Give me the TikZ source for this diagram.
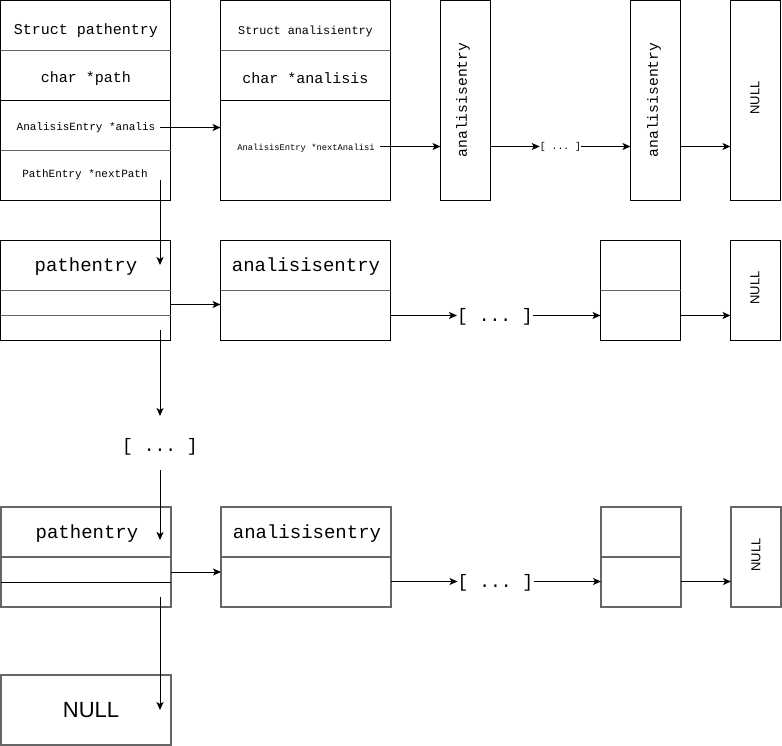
\documentclass[tikz,border=0pt]{standalone}
\usepackage{fontspec}
\setmonofont{Liberation Mono}
\setsansfont{Liberation Sans}
\usetikzlibrary{arrows.meta}

\tikzset{
  box/.style={draw=black, line width=1pt, inner sep=0pt, outer sep=0pt, anchor=north west},
  softbox/.style={box, draw=black!60, line width=1.3pt},
  soft/.style={draw=black!60, line width=1.3pt},
  hard/.style={draw=black, line width=1pt},
  mono/.style={inner sep=0pt, font=\ttfamily\fontsize{#1}{#1}\selectfont},
  sans/.style={inner sep=0pt, font=\sffamily\fontsize{#1}{#1}\selectfont},
  arr/.style={-{Stealth[length=8pt,width=7pt,inset=2pt]}, line width=1pt},
}

\begin{document}
\begin{tikzpicture}[x=1pt,y=-1pt]
\useasboundingbox (0,0) rectangle (782,746);

% ---------- first row: the struct layouts ----------
\node[box, minimum width=170pt, minimum height=200pt] (pa) at (0.5,0.5) {};
\draw[soft] ([yshift=-50pt]pa.north west) -- ([yshift=-50pt]pa.north east);
\draw[hard] ([yshift=-100pt]pa.north west) -- ([yshift=-100pt]pa.north east);
\draw[soft] ([yshift=-150pt]pa.north west) -- ([yshift=-150pt]pa.north east);
\node[mono=15] (pa1) at (86,30.5) {Struct pathentry};
\node[mono=15] (pa2) at (86,78.5) {char *path};
\node[mono=11] (pa3) at (86,128) {AnalisisEntry *analis};
\node[mono=11] (pa4) at (85,175) {PathEntry *nextPath};

\node[box, minimum width=170pt, minimum height=200pt] (pb) at (220.5,0.5) {};
\draw[soft] ([yshift=-50pt]pb.north west) -- ([yshift=-50pt]pb.north east);
\draw[hard] ([yshift=-100pt]pb.north west) -- ([yshift=-100pt]pb.north east);
\node[mono=11.8] (pb1) at (305.5,31) {Struct analisientry};
\node[mono=15] (pb2) at (305.5,78.5) {char *analisis};
\node[mono=8.8] (pb3) at (306,148) {AnalisisEntry *nextAnalisi};

\node[box, minimum width=50pt, minimum height=200pt] (pc) at (440.5,0.5) {};
\node[mono=14.7, rotate=90] (pct) at (463,100) {analisisentry};
\node[box, minimum width=50pt, minimum height=200pt] (pd) at (630.5,0.5) {};
\node[mono=14.7, rotate=90] (pdt) at (654,100) {analisisentry};
\node[box, minimum width=50pt, minimum height=200pt] (pe) at (730.5,0.5) {};
\node[sans=13, rotate=90] (pet) at (755,98) {NULL};
\node[mono=9.8] (dots1) at (560.5,147) {[ ... ]};

\coordinate (s1) at (160,127.5);
\draw[arr] (s1) -- (s1 -| pb.west);
\coordinate (s2) at (380,146.5);
\draw[arr] (s2) -- (s2 -| pc.west);
\draw[arr] (pc.east |- s2) -- (dots1.west |- s2);
\draw[arr] (dots1.east |- s2) -- (s2 -| pd.west);
\draw[arr] (pd.east |- s2) -- (s2 -| pe.west);

% ---------- second row ----------
\node[box, minimum width=170pt, minimum height=100pt] (p2) at (0.5,240.5) {};
\draw[soft] ([yshift=-50pt]p2.north west) -- ([yshift=-50pt]p2.north east);
\draw[soft] ([yshift=-75pt]p2.north west) -- ([yshift=-75pt]p2.north east);
\node[mono=19] (p2t) at (86,266.5) {pathentry};
\node[box, minimum width=170pt, minimum height=100pt] (q2) at (220.5,240.5) {};
\draw[soft] ([yshift=-50pt]q2.north west) -- ([yshift=-50pt]q2.north east);
\node[mono=19] (q2t) at (306,266.5) {analisisentry};
\node[box, minimum width=80pt, minimum height=100pt] (r2) at (600.5,240.5) {};
\draw[soft] ([yshift=-50pt]r2.north west) -- ([yshift=-50pt]r2.north east);
\node[box, minimum width=50pt, minimum height=100pt] (n2) at (730.5,240.5) {};
\node[sans=13, rotate=90] (n2t) at (755,288) {NULL};
\node[mono=18] (dots2) at (495,317) {[ ... ]};

\coordinate (h2) at (0,304.5);
\coordinate (k2) at (0,315.5);
\draw[arr] (h2 -| p2.east) -- (h2 -| q2.west);
\draw[arr] (k2 -| q2.east) -- (k2 -| dots2.west);
\draw[arr] (k2 -| dots2.east) -- (k2 -| r2.west);
\draw[arr] (k2 -| r2.east) -- (k2 -| n2.west);

% ---------- third row ----------
\node[softbox, minimum width=170pt, minimum height=100pt] (p3) at (1,507) {};
\draw[soft] ([yshift=-50pt]p3.north west) -- ([yshift=-50pt]p3.north east);
\draw[hard] ([yshift=-75pt]p3.north west) -- ([yshift=-75pt]p3.north east);
\node[mono=19] (p3t) at (87,533.5) {pathentry};
\node[softbox, minimum width=170pt, minimum height=100pt] (q3) at (221,507) {};
\draw[soft] ([yshift=-50pt]q3.north west) -- ([yshift=-50pt]q3.north east);
\node[mono=19] (q3t) at (307,533.5) {analisisentry};
\node[softbox, minimum width=80pt, minimum height=100pt] (r3) at (601,507) {};
\draw[soft] ([yshift=-50pt]r3.north west) -- ([yshift=-50pt]r3.north east);
\node[softbox, minimum width=50pt, minimum height=100pt] (n3) at (731,507) {};
\node[sans=13, rotate=90] (n3t) at (756,555) {NULL};
\node[mono=18] (dots3) at (495.5,583) {[ ... ]};

\coordinate (h3) at (0,572);
\coordinate (k3) at (0,581.5);
\draw[arr] (h3 -| p3.east) -- (h3 -| q3.west);
\draw[arr] (k3 -| q3.east) -- (k3 -| dots3.west);
\draw[arr] (k3 -| dots3.east) -- (k3 -| r3.west);
\draw[arr] (k3 -| r3.east) -- (k3 -| n3.west);

% ---------- end of the path list ----------
\node[softbox, minimum width=170pt, minimum height=70pt] (nb) at (1,675) {};
\node[sans=22] (nbt) at (91,710) {NULL};

% ---------- links down the path list ----------
\node[mono=18] (gap) at (160,447) {[ ... ]};
\coordinate (v1s) at (160,180);
\coordinate (v1e) at (160,265);
\draw[arr] (v1s) -- (v1e);
\coordinate (v2s) at (160,330);
\draw[arr] (v2s) -- ([yshift=31pt]gap.center);
\coordinate (v3e) at (160,540);
\draw[arr] ([yshift=-23pt]gap.center) -- (v3e);
\coordinate (v4s) at (160,597);
\coordinate (v4e) at (160,710);
\draw[arr] (v4s) -- (v4e);
\end{tikzpicture}
\end{document}
